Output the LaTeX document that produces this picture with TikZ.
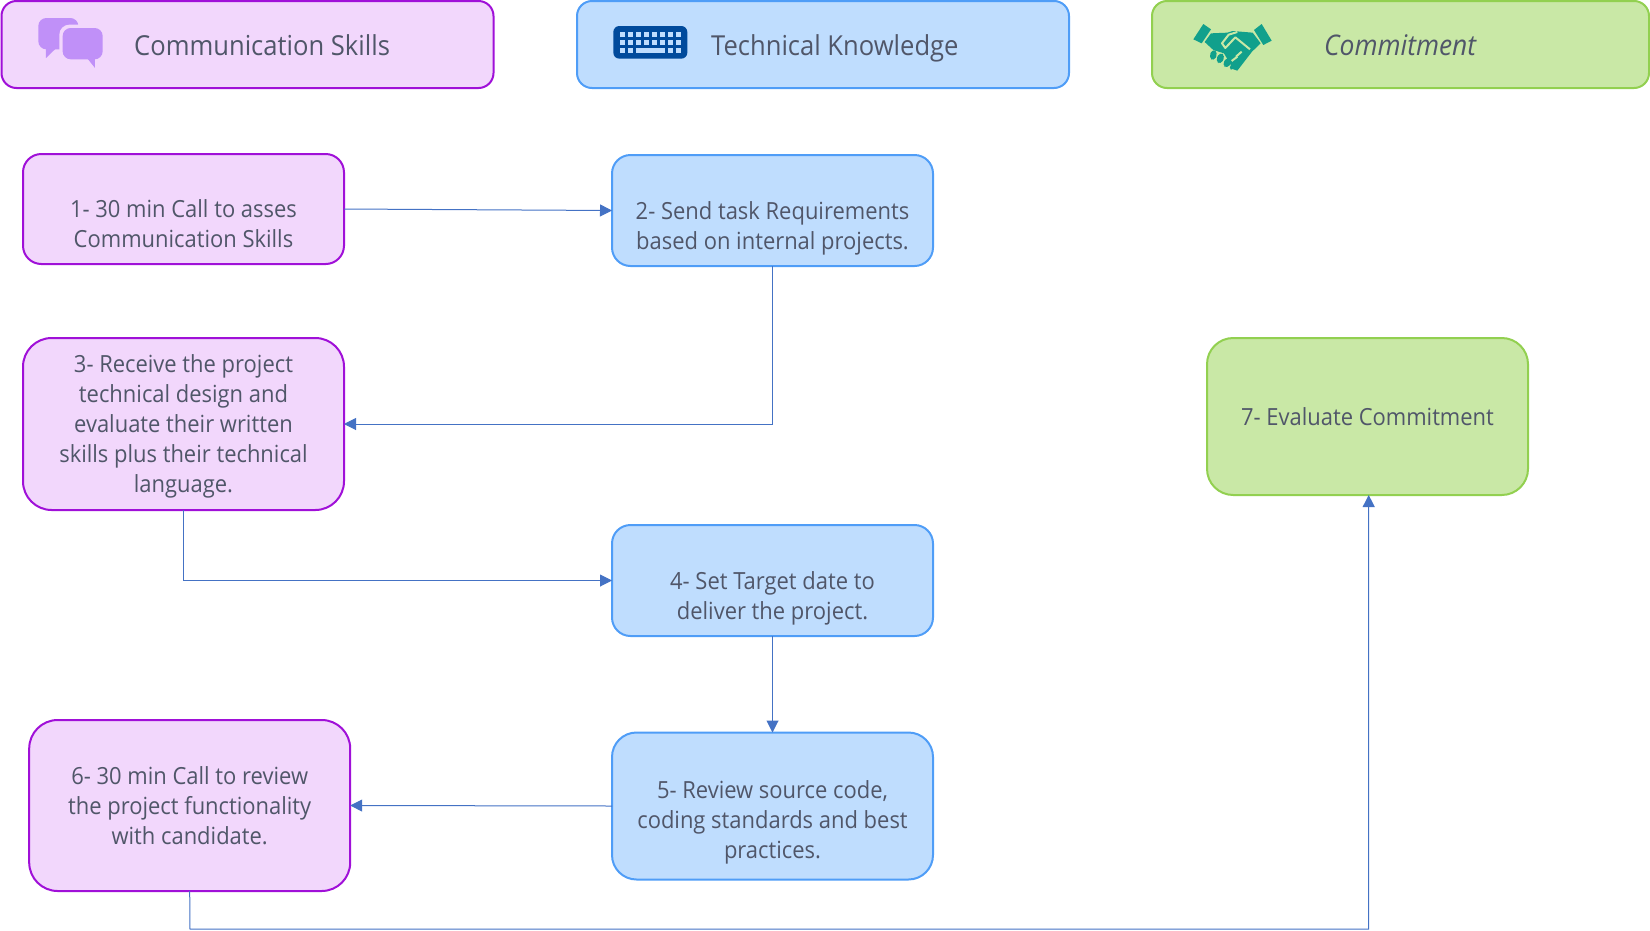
\documentclass[tikz,border=0pt]{standalone}
\usepackage{fontspec}
\setmainfont{Open Sans}[FakeStretch=0.93]
\usetikzlibrary{arrows.meta}
\definecolor{purF}{HTML}{F2D7FC}\definecolor{purD}{HTML}{A010D8}
\definecolor{bluF}{HTML}{BFDDFE}\definecolor{bluD}{HTML}{4F9DF7}
\definecolor{grnF}{HTML}{C9E8A6}\definecolor{grnD}{HTML}{92D050}
\definecolor{txtc}{HTML}{505669}\definecolor{conc}{HTML}{4472C4}
\definecolor{chatc}{HTML}{C090F8}\definecolor{keyc}{HTML}{004A9C}\definecolor{hndc}{HTML}{11A08C}
\newcommand{\topfix}[1]{\rule{0pt}{#1pt}}
\tikzset{
 boxb/.style={draw,line width=2pt,inner sep=0pt,outer sep=0pt,align=center,text=txtc,
   font=\fontsize{23.6}{30}\selectfont},
 pur/.style={boxb,draw=purD,fill=purF},
 blu/.style={boxb,draw=bluD,fill=bluF},
 grn/.style={boxb,draw=grnD,fill=grnF},
 hdr/.style={minimum width=492pt,minimum height=87pt,rounded corners=15pt},
 big/.style={minimum width=321pt,minimum height=#1,rounded corners=0.1667*#1},
 htxt/.style={anchor=base west,inner sep=0pt,text=txtc,font=\fontsize{27.5}{30}\selectfont},
 conn/.style={draw=conc,line width=1pt,-{Triangle[length=12pt,width=12pt]}}
}
\begin{document}
\begin{tikzpicture}[x=1pt,y=-1pt]
\useasboundingbox (0,0) rectangle (1650,930);
% headers
\node[pur,hdr] (h1) at (247.5,44.5) {};
\node[blu,hdr] (h2) at (823,44.5) {};
\node[grn,hdr,minimum width=497pt] (h3) at (1400.5,44.5) {};
\node[htxt] (t1) at (134,55) {Communication Skills};
\node[htxt] (t2) at (711,55) {Technical Knowledge};
\node[htxt,font=\fontsize{28.4}{30}\selectfont\itshape] (t3) at (1324,55) {Commitment};
% chat icon
\begin{scope}[x=0.3333pt,y=-0.3333pt]
\fill[chatc,rounded corners=8pt] (115,54) rectangle (235,148);
\fill[chatc] (138,140) -- (138,174) -- (168,145) -- cycle;
\fill[purF,rounded corners=10pt] (178,74) rectangle (318,188);
\fill[chatc,rounded corners=8pt] (188,84) rectangle (308,178);
\fill[chatc] (258,170) -- (285,204) -- (285,170) -- cycle;
\end{scope}
% keyboard icon
\begin{scope}[shift={(570,0)},x=0.3333pt,y=-0.3333pt]
\fill[keyc,rounded corners=6pt] (130,78) rectangle (352,176);
\foreach \r in {0,1}{\foreach \c in {0,...,7}{
 \fill[bluF] ({150+\c*24},{96+\r*24}) rectangle ++(14,14);}}
\foreach \c in {0,1,6,7}{\fill[bluF] ({150+\c*24},144) rectangle ++(14,14);}
\fill[bluF] (198,144) rectangle (284,158);
\end{scope}
% handshake icon
\begin{scope}[shift={(1150,0)},x=0.3333pt,y=-0.3333pt]
\fill[hndc] (160,72) -- (183,88) -- (155,130) -- (130,118) -- cycle;
\fill[hndc] (335,72) -- (365,122) -- (340,135) -- (312,90) -- cycle;
\fill[hndc] (183,100) -- (232,98) -- (248,93) -- (308,98) -- (332,130) -- (306,155) -- (262,212) -- (250,208) -- (222,160) -- (190,150) -- (164,126) -- cycle;
\fill[hndc,rounded corners=4pt] (188,146) -- (204,158) -- (192,184) -- (176,172) -- cycle;
\fill[hndc,rounded corners=4pt] (210,156) -- (226,168) -- (212,194) -- (196,182) -- cycle;
\fill[hndc,rounded corners=4pt] (232,170) -- (248,182) -- (232,206) -- (216,194) -- cycle;
\fill[hndc,rounded corners=4pt] (250,188) -- (262,196) -- (250,212) -- (234,204) -- cycle;
\draw[grnF,line width=2pt,line join=round] (300,148) -- (256,112) -- (226,144) -- (216,130) -- (236,104) -- (262,96);
\draw[grnF,line width=2pt] (258,170) -- (275,155) (245,183) -- (262,170);
\end{scope}
% process boxes
\node[pur,big=110pt] (b1) at (183.5,209) {\topfix{26}\\1- 30 min Call to asses\\Communication Skills\strut};
\node[blu,big=111pt] (b2) at (772.5,210.5) {\topfix{27}\\2- Send task Requirements\\based on internal projects.\strut};
\node[pur,big=172pt] (b3) at (183.5,424) {\topfix{26}3- Receive the project\\technical design and\\evaluate their written\\skills plus their technical\\language.\strut};
\node[blu,big=111pt] (b4) at (772.5,580.5) {\topfix{26}\\4- Set Target date to\\deliver the project.\strut};
\node[blu,big=147pt] (b5) at (772.5,806) {\topfix{24}\\5- Review source code,\\coding standards and best\\practices.\strut};
\node[pur,big=171pt] (b6) at (189.7,805.5) {\topfix{27}6- 30 min Call to review\\the project functionality\\with candidate.\strut};
\node[grn,big=157pt] (b7) at (1367.5,416.5) {\topfix{26}7- Evaluate Commitment\strut};
\coordinate (low) at (190,929);
\coordinate (lowr) at (1368.7,929);
\coordinate (b7in) at (1368.7,495);
% connectors
\draw[conn] (b1.east) -- (b2.west);
\draw[conn] (b2.south) |- (b3.east);
\draw[conn] (b3.south) |- (b4.west);
\draw[conn] (b4.south) -- (b5.north);
\draw[conn] (b5.west) -- (b6.east);
\draw[conn] (b6.south) -- (low) -- (lowr) -- (b7in);
\end{tikzpicture}
\end{document}
